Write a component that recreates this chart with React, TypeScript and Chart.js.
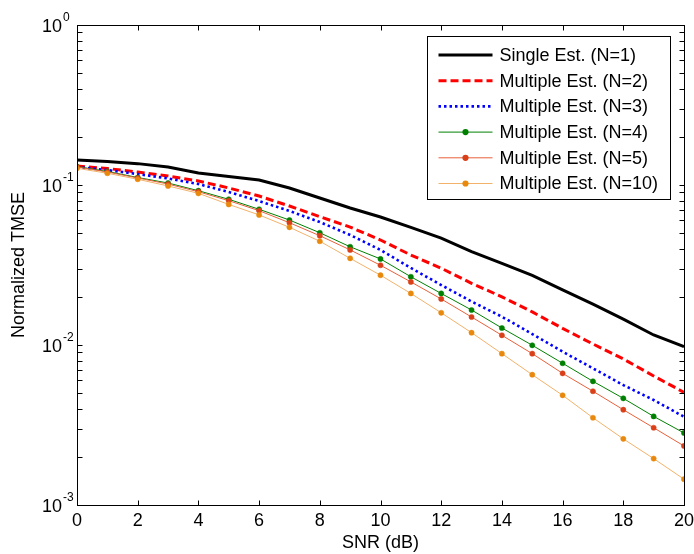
import React, { useEffect, useRef } from 'react';
import { Chart, registerables } from 'chart.js';

Chart.register(...registerables);

// ---------- data ----------
const snrDb = [0, 1, 2, 3, 4, 5, 6, 7, 8, 9, 10, 11, 12, 13, 14, 15, 16, 17, 18, 19, 20];
const xTickStep = 2;
const yDecadeExponents = [0, -1, -2, -3];

const seriesLabels = [
  'Single Est. (N=1)',
  'Multiple Est. (N=2)',
  'Multiple Est. (N=3)',
  'Multiple Est. (N=4)',
  'Multiple Est. (N=5)',
  'Multiple Est. (N=10)',
];

const singleN1 = [0.1433, 0.140, 0.136, 0.1296, 0.1189, 0.113, 0.1075, 0.0958, 0.0829, 0.0718, 0.0631,
  0.0544, 0.0465, 0.0383, 0.0324, 0.0272, 0.0221, 0.0180, 0.0145, 0.01155, 0.00976];
const multiN2 = [0.1315, 0.1268, 0.1206, 0.1138, 0.106, 0.0958, 0.0853, 0.0739, 0.0634, 0.0546, 0.0453,
  0.0365, 0.0302, 0.0243, 0.0200, 0.0161, 0.0127, 0.01015, 0.00818, 0.0064, 0.00506];
const multiN3 = [0.1296, 0.124, 0.117, 0.1099, 0.1014, 0.0904, 0.0794, 0.0688, 0.0587, 0.0487, 0.0393,
  0.0303, 0.0237, 0.0187, 0.01503, 0.0117, 0.00908, 0.00715, 0.00562, 0.00453, 0.00356];
const multiN4 = [0.1305, 0.1215, 0.1114, 0.1029, 0.0921, 0.0814, 0.0705, 0.0604, 0.0503, 0.0411, 0.0345,
  0.0267, 0.0210, 0.01655, 0.01277, 0.00996, 0.00769, 0.00593, 0.00464, 0.00358, 0.00282];
const multiN5 = [0.1296, 0.1206, 0.1106, 0.1014, 0.0908, 0.0798, 0.0691, 0.0581, 0.0482, 0.0393, 0.0315,
  0.0248, 0.0194, 0.01496, 0.0115, 0.00883, 0.00665, 0.00514, 0.00394, 0.00304, 0.00234];
const multiN10 = [0.1272, 0.1184, 0.1086, 0.0986, 0.0887, 0.0756, 0.065, 0.0544, 0.0445, 0.0348, 0.0273,
  0.0210, 0.0159, 0.01194, 0.00883, 0.00652, 0.00485, 0.00351, 0.00259, 0.00195, 0.00145];

const FONT = '"Liberation Sans", Arial, Helvetica, sans-serif';

const toPoints = (ys: number[]) => snrDb.map((x, i) => ({ x, y: ys[i] }));

// ---------- MATLAB-style axes box, inward ticks, superscript labels, legend ----------
const matlabAxesPlugin = {
  id: 'matlabAxes',
  afterDraw(chart: any) {
    const { ctx, chartArea: a, scales } = chart;
    const xs = scales.x;
    const ys = scales.y;
    const L = Math.round(a.left) + 0.5;
    const R = Math.round(a.right) + 0.5;
    const T = Math.round(a.top) + 0.5;
    const B = Math.round(a.bottom) + 0.5;
    const tickLen = 5;
    ctx.save();
    ctx.strokeStyle = '#000';
    ctx.lineWidth = 1;
    const line = (x1: number, y1: number, x2: number, y2: number) => {
      ctx.beginPath();
      ctx.moveTo(x1, y1);
      ctx.lineTo(x2, y2);
      ctx.stroke();
    };
    // x ticks (bottom and top, inward)
    xs.ticks.forEach((t: any) => {
      const px = Math.round(xs.getPixelForValue(t.value)) + 0.5;
      line(px, B, px, B - tickLen);
      line(px, T, px, T + tickLen);
    });
    // y ticks (major and minor, left and right, inward)
    const minE = Math.min(...yDecadeExponents);
    const maxE = Math.max(...yDecadeExponents);
    for (let e = minE; e <= maxE; e++) {
      const mults = e === maxE ? [1] : [1, 2, 3, 4, 5, 6, 7, 8, 9];
      mults.forEach((m) => {
        const py = Math.round(ys.getPixelForValue(m * Math.pow(10, e))) + 0.5;
        line(L, py, L + tickLen, py);
        line(R, py, R - tickLen, py);
      });
    }
    // box
    ctx.strokeRect(L, T, R - L, B - T);

    // y tick labels 10^e
    ctx.fillStyle = '#000';
    yDecadeExponents.forEach((e) => {
      const py = ys.getPixelForValue(Math.pow(10, e));
      const xr = a.left - 15;
      ctx.font = `18px ${FONT}`;
      ctx.textAlign = 'right';
      ctx.textBaseline = 'middle';
      ctx.fillText('10', xr, py + 2);
      ctx.font = `12px ${FONT}`;
      ctx.textAlign = 'left';
      ctx.fillText(String(e), xr + 1, py - 7);
    });

    // legend
    const ds = chart.data.datasets;
    const boxW = 243;
    const rowH = 25.7;
    const boxH = 163;
    const bx = Math.round(a.right - 14 - boxW) + 0.5;
    const by = Math.round(a.top + 11) + 0.5;
    ctx.fillStyle = '#fff';
    ctx.fillRect(bx, by, boxW, boxH);
    ctx.strokeStyle = '#000';
    ctx.lineWidth = 1;
    ctx.setLineDash([]);
    ctx.strokeRect(bx, by, boxW, boxH);
    ds.forEach((d: any, i: number) => {
      const cy = by + 18.5 + i * rowH;
      const x1 = bx + 11;
      const x2 = bx + 65;
      ctx.save();
      ctx.strokeStyle = d.borderColor;
      ctx.lineWidth = d.borderWidth;
      ctx.setLineDash(d.borderDash || []);
      ctx.lineCap = 'butt';
      line(x1, cy, x2, cy);
      ctx.restore();
      if (d.pointRadius > 0) {
        ctx.beginPath();
        ctx.fillStyle = d.pointBackgroundColor;
        ctx.arc((x1 + x2) / 2, cy, d.pointRadius + 0.5, 0, Math.PI * 2);
        ctx.fill();
      }
      ctx.fillStyle = '#000';
      ctx.font = `18px ${FONT}`;
      ctx.textAlign = 'left';
      ctx.textBaseline = 'middle';
      ctx.fillText(d.label, bx + 72, cy + 1);
    });
    ctx.restore();
  },
};

export default function App() {
  const canvasRef = useRef<HTMLCanvasElement | null>(null);

  useEffect(() => {
    const canvas = canvasRef.current;
    if (!canvas) return;
    Chart.defaults.font.family = FONT;
    Chart.defaults.color = '#000';

    const base = { showLine: true, fill: false, tension: 0, spanGaps: true };
    const datasets: any[] = [
      { ...base, label: seriesLabels[0], data: toPoints(singleN1), borderColor: '#000000', borderWidth: 3,
        borderDash: [], pointRadius: 0, order: 10 },
      { ...base, label: seriesLabels[1], data: toPoints(multiN2), borderColor: '#ff0000', borderWidth: 3,
        borderDash: [8, 4], pointRadius: 0, order: 9 },
      { ...base, label: seriesLabels[2], data: toPoints(multiN3), borderColor: '#0000ff', borderWidth: 2.6,
        borderDash: [2.5, 3], pointRadius: 0, order: 8 },
      { ...base, label: seriesLabels[3], data: toPoints(multiN4), borderColor: '#008000', borderWidth: 1,
        borderDash: [], pointRadius: 2.6, pointBackgroundColor: '#008000', pointBorderColor: '#008000',
        pointBorderWidth: 0.5, order: 7 },
      { ...base, label: seriesLabels[4], data: toPoints(multiN5), borderColor: '#e8603a', borderWidth: 1,
        borderDash: [], pointRadius: 2.6, pointBackgroundColor: '#d9401a', pointBorderColor: '#d9401a',
        pointBorderWidth: 0.5, order: 6 },
      { ...base, label: seriesLabels[5], data: toPoints(multiN10), borderColor: '#f2b26a', borderWidth: 1,
        borderDash: [], pointRadius: 2.6, pointBackgroundColor: '#e8890e', pointBorderColor: '#e8890e',
        pointBorderWidth: 0.5, order: 5 },
    ];

    const chart = new Chart(canvas, {
      type: 'line',
      data: { datasets },
      plugins: [matlabAxesPlugin],
      options: {
        animation: false,
        responsive: false,
        maintainAspectRatio: false,
        devicePixelRatio: 1,
        layout: { padding: { left: 0, right: 10, top: 25, bottom: 0 } },
        plugins: {
          legend: { display: false },
          tooltip: { enabled: false },
          title: { display: false },
        },
        scales: {
          x: {
            type: 'linear',
            min: snrDb[0],
            max: snrDb[snrDb.length - 1],
            grid: { display: false, drawTicks: false },
            border: { display: false },
            ticks: {
              stepSize: xTickStep,
              maxRotation: 0,
              autoSkip: false,
              padding: 5,
              font: { size: 18, family: FONT },
              color: '#000',
            },
            title: {
              display: true,
              text: 'SNR (dB)',
              font: { size: 18, family: FONT },
              color: '#000',
              padding: { top: 0, bottom: 0 },
            },
            afterFit: (s: any) => { s.height = 49; s.paddingLeft = 0; s.paddingRight = 0; },
          },
          y: {
            type: 'logarithmic',
            min: Math.pow(10, Math.min(...yDecadeExponents)),
            max: Math.pow(10, Math.max(...yDecadeExponents)),
            grid: { display: false, drawTicks: false },
            border: { display: false },
            ticks: { display: false },
            title: {
              display: true,
              text: 'Normalized TMSE',
              font: { size: 18, family: FONT },
              color: '#000',
              padding: { top: 8, bottom: 0 },
            },
            afterFit: (s: any) => { s.width = 77; s.paddingTop = 0; s.paddingBottom = 0; },
          },
        },
      },
    });
    return () => chart.destroy();
  }, []);

  return (
    <div style={{ position: 'absolute', left: 0, top: 0, width: 694, height: 554, background: '#fff' }}>
      <canvas ref={canvasRef} width={694} height={554} style={{ display: 'block' }} />
    </div>
  );
}
